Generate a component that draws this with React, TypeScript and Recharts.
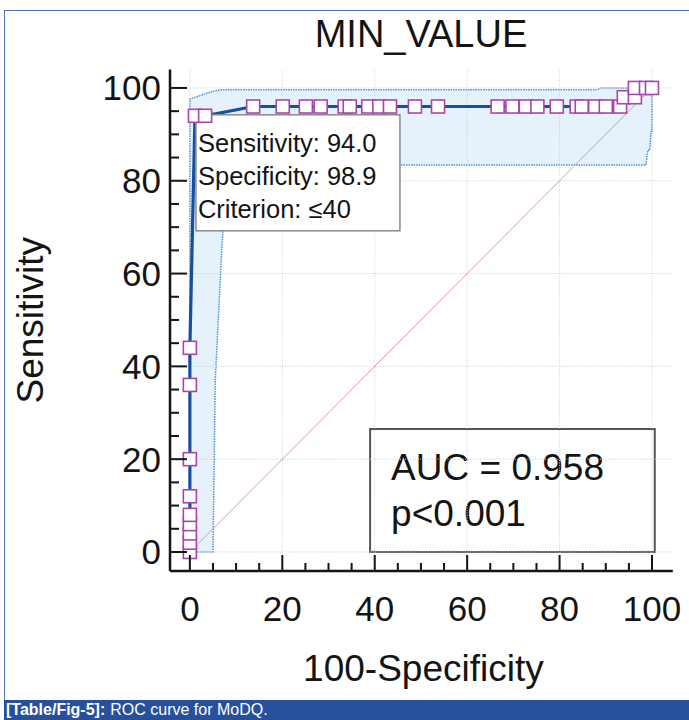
import React from 'react';
import {
  ComposedChart,
  Line,
  Area,
  XAxis,
  YAxis,
  ReferenceLine,
  ReferenceDot,
  ReferenceArea,
  Label,
  Customized,
} from 'recharts';

// ROC curve points (100-Specificity, Sensitivity)
const rocX = [0, 0, 0, 0, 0, 0, 0, 0, 0, 1.1, 3.3, 13.7, 20.1, 25.1, 28.3, 33.5, 34.6, 38.6, 41.0, 43.3, 48.7, 53.7, 66.6, 69.8, 72.7, 75.2, 79.4, 83.7, 84.8, 87.7, 90.0, 93.1, 93.9, 96.3, 96.3, 98.7, 100];
const rocY = [0, 2, 4, 6, 8, 12, 20, 36, 44, 94, 94, 96, 96, 96, 96, 96, 96, 96, 96, 96, 96, 96, 96, 96, 96, 96, 96, 96, 96, 96, 96, 96, 98, 98, 100, 100, 100];

// 95% confidence band
const bandX = [0, 0, 5, 5.5, 7, 8.5, 88, 89, 98.7, 99.1, 99.5, 99.8, 100, 100];
const bandLow = [0, 0, 0, 37, 67, 83.4, 83.4, 83.4, 83.4, 86.6, 86.6, 90.6, 90.6, 100];
const bandHigh = [0, 97.6, 99.3, 99.4, 99.6, 99.6, 99.6, 100, 100, 100, 100, 100, 100, 100];

// Axis ticks
const majorTicks = [0, 20, 40, 60, 80, 100];
const allTicks = [0, 5, 10, 15, 20, 25, 30, 35, 40, 45, 50, 55, 60, 65, 70, 75, 80, 85, 90, 95, 100];

// Texts
const title = 'MIN_VALUE';
const xLabel = '100-Specificity';
const yLabel = 'Sensitivity';
const criterionPoint = { x: 1.1, y: 94 };
const criterionLines = ['Sensitivity: 94.0', 'Specificity: 98.9', 'Criterion: \u226440'];
const aucBox = { x1: 39, x2: 100.6, y1: 0, y2: 26.5 };
const aucLines = ['AUC = 0.958', 'p<0.001'];
const captionBold = '[Table/Fig-5]:';
const captionText = 'ROC curve for MoDQ.';

const rocData = rocX.map((x, i) => ({ x, y: rocY[i] }));
const bandData = bandX.map((x, i) => ({ x, range: [bandLow[i], bandHigh[i]] }));

const FONT = '"Liberation Sans", Arial, Helvetica, sans-serif';
const INK = '#141414';

function XTick(props: any) {
  const { x, y, payload } = props;
  const v = payload.value;
  const major = majorTicks.includes(v);
  return (
    <g>
      <line x1={x} x2={x} y1={y} y2={y - (major ? 16 : 8)} stroke={INK} strokeWidth={2} />
      {major && (
        <text x={x} y={y + 50} textAnchor="middle" fontSize={35} fontFamily={FONT} fill={INK}>
          {v}
        </text>
      )}
    </g>
  );
}

function YTick(props: any) {
  const { x, y, payload } = props;
  const v = payload.value;
  const major = majorTicks.includes(v);
  return (
    <g>
      <line x1={x} x2={x + (major ? 17 : 9)} y1={y} y2={y} stroke={INK} strokeWidth={2} />
      {major && (
        <text x={x - 9} y={y + 12.5} textAnchor="end" fontSize={35} fontFamily={FONT} fill={INK}>
          {v}
        </text>
      )}
    </g>
  );
}

function XLabelContent(props: any) {
  const vb = props.viewBox || {};
  return (
    <text x={vb.x + vb.width / 2 + 2} y={681} textAnchor="middle" fontSize={37} fontFamily={FONT} fill={INK}>
      {xLabel}
    </text>
  );
}

function YLabelContent(props: any) {
  const vb = props.viewBox || {};
  const cy = vb.y + vb.height / 2;
  return (
    <text x={43} y={cy} transform={`rotate(-90, 43, ${cy})`} textAnchor="middle" fontSize={37} fontFamily={FONT} fill={INK}>
      {yLabel}
    </text>
  );
}

function Square(props: any) {
  const { cx, cy, index } = props;
  if (cx == null || cy == null) return <g key={`sq-${index}`} />;
  return (
    <rect key={`sq-${index}`} x={cx - 6.5} y={cy - 6.5} width={13} height={13} fill="#ffffff" stroke="#a845ad" strokeWidth={1.6} />
  );
}

function CriterionBox(props: any) {
  const { cx, cy } = props;
  const bx = cx + 1;
  const by = cy - 1;
  return (
    <g>
      <rect x={bx} y={by} width={204} height={116} fill="#ffffff" stroke="#8a8a8a" strokeWidth={1.5} />
      {criterionLines.map((t, i) => (
        <text key={t} x={bx + 2} y={by + 37 + i * 33} fontSize={25.5} fontFamily={FONT} fill={INK}>
          {t}
        </text>
      ))}
    </g>
  );
}

function AucShape(props: any) {
  const { x, y, width, height } = props;
  return (
    <g>
      <rect x={x} y={y} width={width} height={height} fill="#ffffff" stroke="#555555" strokeWidth={2} />
      {aucLines.map((t, i) => (
        <text key={t} x={x + 21} y={y + 51 + i * 46} fontSize={37} fontFamily={FONT} fill={INK}>
          {t}
        </text>
      ))}
    </g>
  );
}

function TitleText() {
  return (
    <text x={421} y={47} textAnchor="middle" fontSize={38} fontFamily={FONT} fill={INK}>
      {title}
    </text>
  );
}

export default function App() {
  return (
    <div style={{ position: 'absolute', left: 0, top: 0, width: 689, height: 720, background: '#ffffff', overflow: 'hidden' }}>
      <div
        style={{
          position: 'absolute',
          left: 4,
          top: 10,
          width: 690,
          height: 700,
          borderTop: '1.5px solid #4f73b6',
          borderLeft: '1.5px solid #4f73b6',
          boxSizing: 'border-box',
        }}
      />
      <div style={{ position: 'absolute', left: 0, top: 0 }}>
        <ComposedChart width={689} height={720} margin={{ top: 69.4, right: 16.2, bottom: 69, left: 50 }}>
          <XAxis
            dataKey="x"
            type="number"
            domain={[-4.3, 104.5]}
            allowDataOverflow
            ticks={allTicks}
            interval={0}
            tickSize={0}
            tickMargin={0}
            tickLine={false}
            tick={<XTick />}
            axisLine={{ stroke: INK, strokeWidth: 2.5 }}
            height={80}
          >
            <Label content={<XLabelContent />} />
          </XAxis>
          <YAxis
            type="number"
            domain={[-4.1, 104]}
            allowDataOverflow
            ticks={allTicks}
            interval={0}
            tickSize={0}
            tickMargin={0}
            tickLine={false}
            tick={<YTick />}
            axisLine={{ stroke: INK, strokeWidth: 2.5 }}
            width={120}
          >
            <Label content={<YLabelContent />} />
          </YAxis>
          {majorTicks.map((t) => (
            <ReferenceLine key={`gx-${t}`} x={t} stroke="#c3d0de" strokeDasharray="1 1.5" strokeWidth={1} />
          ))}
          {majorTicks.map((t) => (
            <ReferenceLine key={`gy-${t}`} y={t} stroke="#c3d0de" strokeDasharray="1 1.5" strokeWidth={1} />
          ))}
          <Area
            data={bandData}
            dataKey="range"
            type="linear"
            fill="#dcecfa"
            fillOpacity={0.75}
            stroke="#4f90d6"
            strokeWidth={1.5}
            strokeDasharray="1.5 1"
            isAnimationActive={false}
            dot={false}
            activeDot={false}
          />
          <ReferenceLine
            segment={[{ x: 0, y: 0 }, { x: 100, y: 100 }]}
            stroke="#e29a9a"
            strokeWidth={1}
          />
          <ReferenceDot x={criterionPoint.x} y={criterionPoint.y} r={0} shape={<CriterionBox />} />
          <ReferenceArea x1={aucBox.x1} x2={aucBox.x2} y1={aucBox.y1} y2={aucBox.y2} shape={<AucShape />} />
          <Line
            data={rocData}
            dataKey="y"
            type="linear"
            stroke="#174f9f"
            strokeWidth={3.2}
            dot={<Square />}
            activeDot={false}
            isAnimationActive={false}
          />
          <Customized component={<TitleText />} />
        </ComposedChart>
      </div>
      <div
        style={{
          position: 'absolute',
          left: 4,
          top: 700,
          width: 685,
          height: 20,
          background: '#27509b',
          color: '#ffffff',
          fontFamily: FONT,
          fontSize: 16,
          lineHeight: '20px',
          whiteSpace: 'nowrap',
          paddingLeft: 2,
          boxSizing: 'border-box',
        }}
      >
        <span style={{ fontWeight: 'bold' }}>{captionBold}</span>
        <span style={{ marginLeft: 5 }}>{captionText}</span>
      </div>
    </div>
  );
}
